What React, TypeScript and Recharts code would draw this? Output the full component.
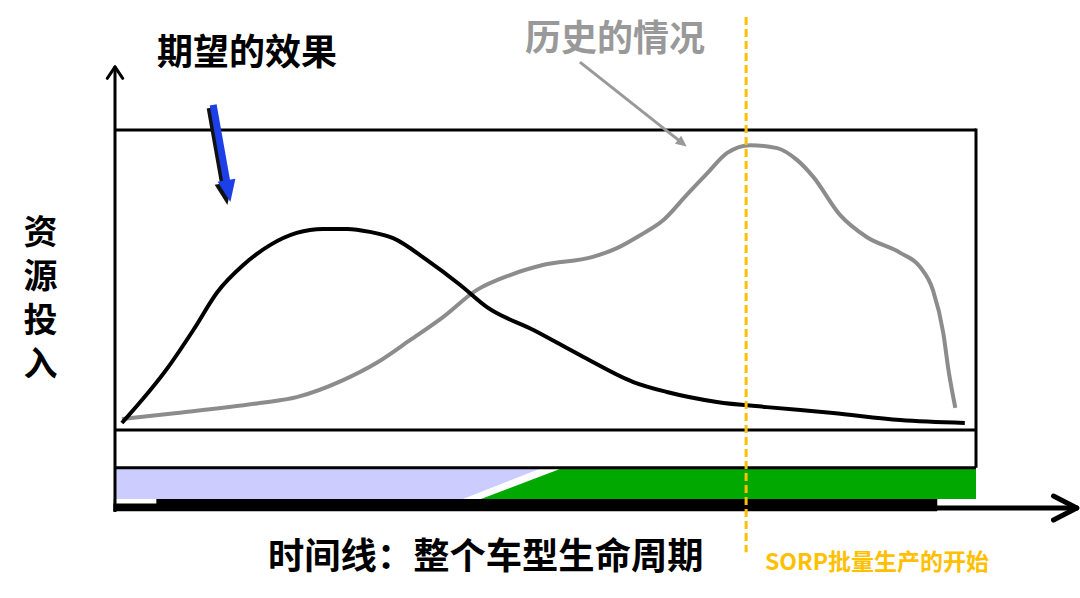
import React from 'react';
import { ComposedChart, Line, Area, XAxis, YAxis, ReferenceLine, ReferenceArea } from 'recharts';

// Time axis: 0..100 (whole vehicle life cycle); resource axis: 0..100
const desiredEffect = [
  { x: 0.8, y: 20.6 }, { x: 6.2, y: 35.8 }, { x: 9.1, y: 45.8 }, { x: 11.9, y: 56.1 },
  { x: 14.9, y: 63.4 }, { x: 18.0, y: 68.8 }, { x: 21.1, y: 72.1 }, { x: 24.2, y: 73.2 },
  { x: 27.0, y: 73.2 }, { x: 29.6, y: 72.4 }, { x: 32.3, y: 70.7 }, { x: 36.2, y: 64.8 },
  { x: 40.1, y: 58.0 }, { x: 43.2, y: 52.0 }, { x: 48.6, y: 45.8 }, { x: 54.4, y: 38.5 },
  { x: 60.2, y: 31.7 }, { x: 64.1, y: 29.0 }, { x: 69.9, y: 26.3 }, { x: 75.7, y: 24.9 },
  { x: 83.4, y: 23.3 }, { x: 91.2, y: 21.4 }, { x: 98.7, y: 20.6 },
];

const historicalCase = [
  { x: 0.8, y: 21.7 }, { x: 7.2, y: 23.3 }, { x: 16.8, y: 26.0 }, { x: 21.1, y: 27.6 },
  { x: 26.5, y: 32.2 }, { x: 30.4, y: 36.9 }, { x: 34.3, y: 43.1 }, { x: 38.1, y: 49.3 },
  { x: 42.0, y: 56.6 }, { x: 45.9, y: 60.7 }, { x: 49.7, y: 63.4 }, { x: 55.5, y: 65.6 },
  { x: 58.3, y: 68.0 }, { x: 61.0, y: 71.5 }, { x: 63.7, y: 75.6 }, { x: 66.4, y: 82.4 },
  { x: 68.8, y: 88.3 }, { x: 71.1, y: 93.8 }, { x: 73.8, y: 95.9 }, { x: 76.9, y: 95.1 },
  { x: 79.2, y: 91.9 }, { x: 81.1, y: 87.3 }, { x: 84.2, y: 77.0 }, { x: 87.3, y: 71.0 },
  { x: 91.2, y: 66.7 }, { x: 93.5, y: 62.9 }, { x: 95.0, y: 56.6 }, { x: 96.2, y: 45.0 },
  { x: 96.8, y: 35.0 }, { x: 97.6, y: 24.7 },
];

// Phase band (concept phase in lavender, production phase in green)
const conceptPhase = [
  { x: 0, r: [0, 8.3] }, { x: 40.4, r: [0, 8.3] }, { x: 49.5, r: [8.3, 8.3] },
];
const productionPhase = [
  { x: 42.5, r: [0, 0] }, { x: 51.9, r: [0, 8.3] }, { x: 100.1, r: [0, 8.3] },
];

const sorpTime = 73.3;
const titleDesired = '期望的效果';
const titleHistory = '历史的情况';
const yLabel = '资源投入';
const xLabel = '时间线：整个车型生命周期';
const sorpLabel = 'SORP批量生产的开始';

const FONT = "'Noto Sans CJK SC', 'Noto Sans', sans-serif";

const makeArrow = (color: string, width: number, head: number, headW: number, shadow?: string) =>
  (props: any) => {
    const { x1, y1, x2, y2 } = props;
    const dx = x2 - x1, dy = y2 - y1;
    const len = Math.sqrt(dx * dx + dy * dy) || 1;
    const ux = dx / len, uy = dy / len;
    const px = -uy, py = ux;
    const bx = x2 - ux * head, by = y2 - uy * head;
    const pts = `${x2},${y2} ${bx + px * headW / 2},${by + py * headW / 2} ${bx - px * headW / 2},${by - py * headW / 2}`;
    const draw = (c: string, ox: number, oy: number) => (
      <g transform={`translate(${ox},${oy})`}>
        <line x1={x1} y1={y1} x2={bx + ux * 1} y2={by + uy * 1} stroke={c} strokeWidth={width} />
        <polygon points={pts} fill={c} />
      </g>
    );
    return (
      <g>
        {shadow ? draw(shadow, -3, 3) : null}
        {draw(color, 0, 0)}
      </g>
    );
  };

export default function App() {
  return (
    <div style={{ position: 'absolute', left: 0, top: 0, width: 1080, height: 598, background: '#fff' }}>
      <ComposedChart width={1080} height={598} margin={{ top: 130, right: 104, bottom: 99, left: 115 }}>
        <XAxis type="number" dataKey="x" domain={[0, 100]} hide allowDataOverflow />
        <YAxis type="number" domain={[0, 100]} hide allowDataOverflow />

        <Area data={conceptPhase} dataKey="r" type="linear" stroke="none" fill="#CCCCFF" fillOpacity={1} isAnimationActive={false} />
        <Area data={productionPhase} dataKey="r" type="linear" stroke="none" fill="#00A800" fillOpacity={1} isAnimationActive={false} />

        {/* thick base bar under band */}
        <ReferenceArea x1={-0.2} x2={95.5} y1={-3.3} y2={0} fill="#000" fillOpacity={1} stroke="none" ifOverflow="visible" />
        <ReferenceArea x1={-0.2} x2={4.8} y1={-1.2} y2={0} fill="#fff" fillOpacity={1} stroke="none" ifOverflow="visible" />

        {/* frame */}
        <ReferenceLine segment={[{ x: 0, y: 100 }, { x: 100, y: 100 }]} stroke="#000" strokeWidth={3} ifOverflow="visible" />
        <ReferenceLine segment={[{ x: 0, y: 18.7 }, { x: 100, y: 18.7 }]} stroke="#000" strokeWidth={3} ifOverflow="visible" />
        <ReferenceLine segment={[{ x: 0, y: 8.5 }, { x: 100, y: 8.5 }]} stroke="#000" strokeWidth={3} ifOverflow="visible" />
        <ReferenceLine segment={[{ x: 100, y: 8.5 }, { x: 100, y: 100.4 }]} stroke="#000" strokeWidth={3} ifOverflow="visible" />

        {/* axes with arrows */}
        <ReferenceLine segment={[{ x: 0, y: -3.5 }, { x: 0, y: 117.1 }]} stroke="#000" strokeWidth={3} ifOverflow="visible" />
        <ReferenceLine segment={[{ x: -0.9, y: 114 }, { x: 0, y: 117.1 }]} stroke="#000" strokeWidth={3} strokeLinecap="round" ifOverflow="visible" />
        <ReferenceLine segment={[{ x: 0.9, y: 114 }, { x: 0, y: 117.1 }]} stroke="#000" strokeWidth={3} strokeLinecap="round" ifOverflow="visible" />
        <ReferenceLine segment={[{ x: 0, y: -2.45 }, { x: 111.5, y: -2.45 }]} stroke="#000" strokeWidth={5} ifOverflow="visible" />
        <ReferenceLine segment={[{ x: 109.0, y: 0.8 }, { x: 111.7, y: -2.45 }]} stroke="#000" strokeWidth={5} strokeLinecap="round" ifOverflow="visible" />
        <ReferenceLine segment={[{ x: 109.0, y: -5.7 }, { x: 111.7, y: -2.45 }]} stroke="#000" strokeWidth={5} strokeLinecap="round" ifOverflow="visible" />

        <Line data={historicalCase} dataKey="y" type="monotone" stroke="#8C8C8C" strokeWidth={4} dot={false} isAnimationActive={false} />
        <Line data={desiredEffect} dataKey="y" type="monotone" stroke="#000" strokeWidth={4} dot={false} isAnimationActive={false} />

        {/* annotation arrows */}
        <ReferenceLine segment={[{ x: 54.0, y: 118.4 }, { x: 66.4, y: 95.5 }]} ifOverflow="visible"
          shape={makeArrow('#999999', 3, 11, 10)} />
        <ReferenceLine segment={[{ x: 11.4, y: 106.8 }, { x: 13.4, y: 80.5 }]} ifOverflow="visible"
          shape={makeArrow('#1C3FE8', 7, 22, 18, '#111')} />

        {/* SORP start */}
        <ReferenceLine segment={[{ x: sorpTime, y: 130.6 }, { x: sorpTime, y: -14.4 }]} stroke="#FFC000" strokeWidth={3}
          strokeDasharray="8 4" ifOverflow="visible" />
      </ComposedChart>

      <div style={{ position: 'absolute', left: 157, top: 31, fontFamily: FONT, fontWeight: 700, fontSize: 36, lineHeight: '36px', color: '#000', whiteSpace: 'nowrap' }}>{titleDesired}</div>
      <div style={{ position: 'absolute', left: 525, top: 17, fontFamily: FONT, fontWeight: 700, fontSize: 36, lineHeight: '36px', color: '#999999', whiteSpace: 'nowrap' }}>{titleHistory}</div>
      <div style={{ position: 'absolute', left: 23, top: 214, height: 180, fontFamily: FONT, fontWeight: 700, fontSize: 34, lineHeight: '34px', letterSpacing: '10px', writingMode: 'vertical-rl', textOrientation: 'upright', color: '#000', whiteSpace: 'nowrap' }}>{yLabel}</div>
      <div style={{ position: 'absolute', left: 268, top: 535, fontFamily: FONT, fontWeight: 700, fontSize: 36.3, lineHeight: '36px', color: '#000', whiteSpace: 'nowrap' }}>{xLabel}</div>
      <div style={{ position: 'absolute', left: 765, top: 549, fontFamily: FONT, fontWeight: 700, fontSize: 23, lineHeight: '23px', color: '#FFC000', whiteSpace: 'nowrap' }}>{sorpLabel}</div>
    </div>
  );
}
